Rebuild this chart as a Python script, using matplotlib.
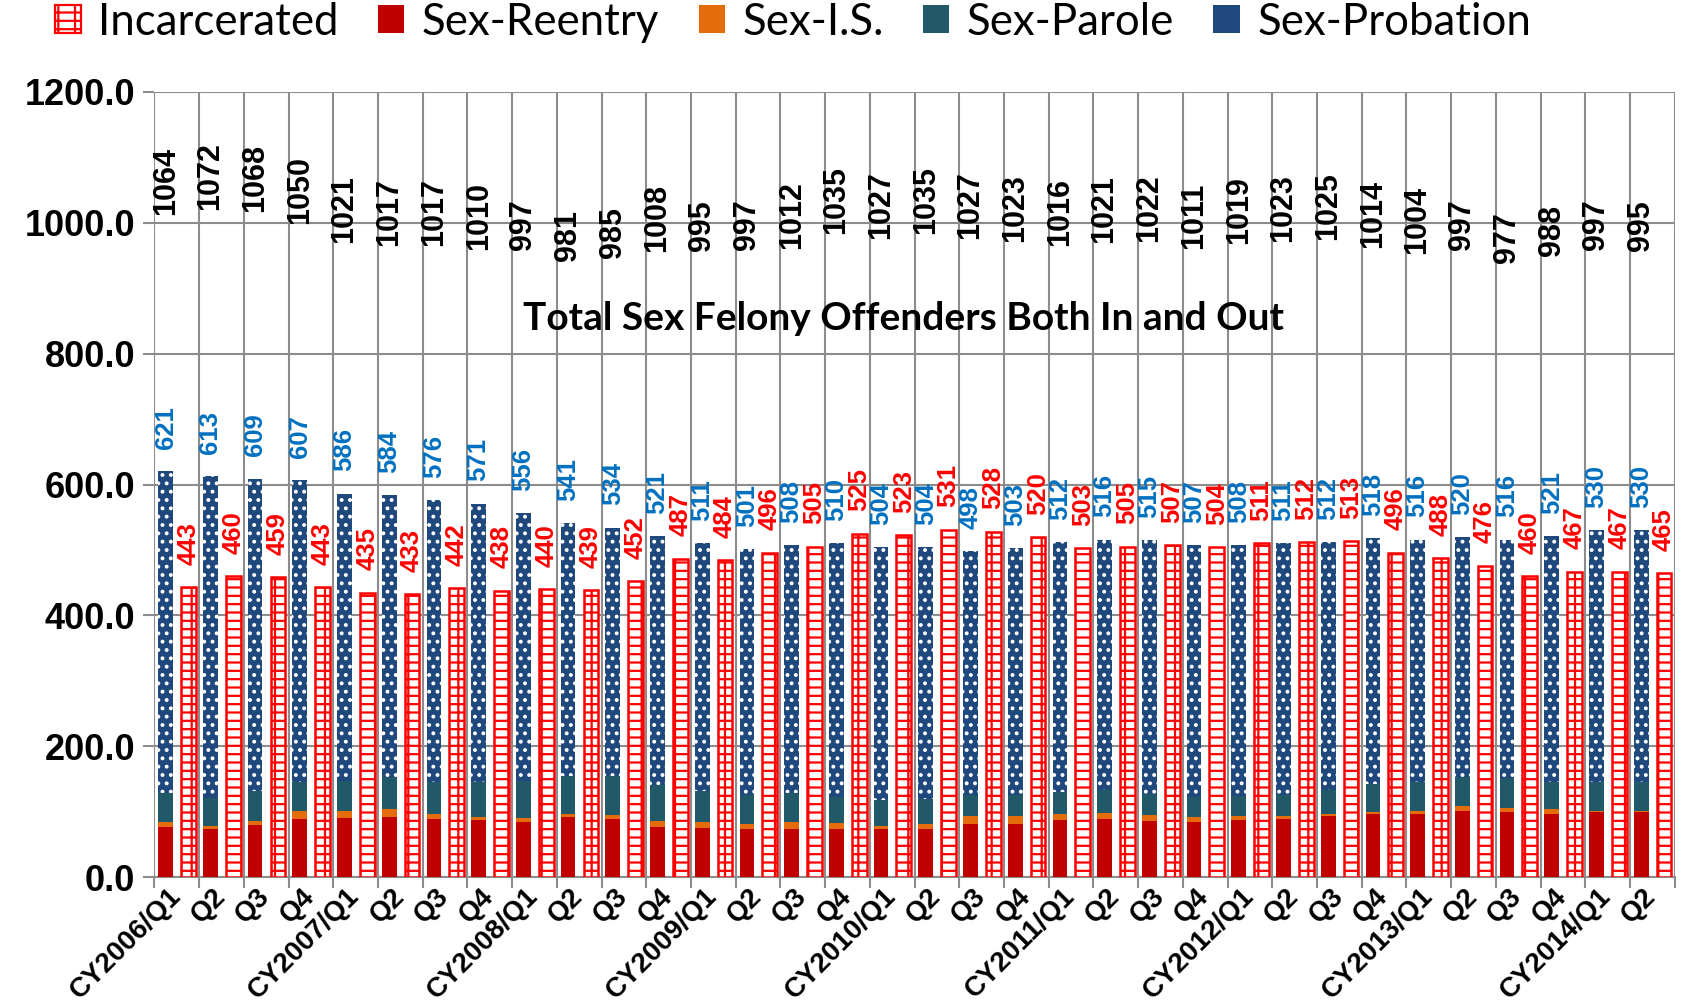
import matplotlib
matplotlib.use("Agg")
import matplotlib.pyplot as plt
import numpy as np
from matplotlib.patches import Patch
from matplotlib.ticker import FixedLocator, FormatStrFormatter

quarters = [
    "CY2006/Q1", "Q2", "Q3", "Q4",
    "CY2007/Q1", "Q2", "Q3", "Q4",
    "CY2008/Q1", "Q2", "Q3", "Q4",
    "CY2009/Q1", "Q2", "Q3", "Q4",
    "CY2010/Q1", "Q2", "Q3", "Q4",
    "CY2011/Q1", "Q2", "Q3", "Q4",
    "CY2012/Q1", "Q2", "Q3", "Q4",
    "CY2013/Q1", "Q2", "Q3", "Q4",
    "CY2014/Q1", "Q2",
]
totals = [1064, 1072, 1068, 1050, 1021, 1017, 1017, 1010, 997, 981, 985, 1008,
          995, 997, 1012, 1035, 1027, 1035, 1027, 1023, 1016, 1021, 1022, 1011,
          1019, 1023, 1025, 1014, 1004, 997, 977, 988, 997, 995]
community = [621, 613, 609, 607, 586, 584, 576, 571, 556, 541, 534, 521,
             511, 501, 508, 510, 504, 504, 498, 503, 512, 516, 515, 507,
             508, 511, 512, 518, 516, 520, 516, 521, 530, 530]
incarcerated = [443, 460, 459, 443, 435, 433, 442, 438, 440, 439, 452, 487,
                484, 496, 505, 525, 523, 531, 528, 520, 503, 505, 507, 504,
                511, 512, 513, 496, 488, 476, 460, 467, 467, 465]
reentry = [77, 73, 80, 89, 90, 92, 89, 87, 85, 92, 89, 77,
           76, 73, 74, 74, 73, 73, 82, 82, 88, 89, 86, 85,
           87, 89, 93, 96, 97, 102, 99, 97, 99, 99]
intensive = [7, 6, 6, 13, 12, 12, 8, 5, 5, 4, 6, 9,
             8, 8, 11, 9, 6, 9, 11, 12, 9, 9, 9, 7,
             6, 4, 3, 4, 4, 7, 7, 7, 3, 3]
parole = [44, 42, 46, 44, 45, 49, 49, 53, 57, 58, 60, 55,
          48, 44, 44, 40, 39, 38, 32, 32, 34, 36, 32, 30,
          31, 33, 37, 42, 44, 44, 45, 42, 44, 44]
probation = [493, 492, 477, 461, 439, 431, 430, 426, 409, 387, 379, 380,
             379, 376, 379, 387, 386, 384, 373, 377, 381, 382, 388, 385,
             384, 385, 379, 376, 371, 367, 365, 375, 384, 384]

C_REENTRY = "#C00000"
C_IS = "#E46C0A"
C_PAROLE = "#215968"
C_PROB = "#1F497D"
C_INC = "#FF0000"
GRID = "#8C8C8C"

plt.rcParams["hatch.linewidth"] = 1.6
LABEL_FONT = "Liberation Sans"
TEXT_FONT = "Lato"

fig = plt.figure(figsize=(16.94, 10.08), dpi=100)
ax = fig.add_axes([0.0912, 0.1297, 0.8974, 0.7792])

x = np.arange(len(quarters))
w = 0.33
xc = x - 0.25
xi = x + 0.26

r = np.array(reentry)
s = np.array(intensive)
p = np.array(parole)
b = np.array(probation)

ax.bar(xc, r, w, color=C_REENTRY, zorder=3)
ax.bar(xc, s, w, bottom=r, color=C_IS, zorder=3)
ax.bar(xc, p, w, bottom=r + s, color=C_PAROLE, zorder=3)
ax.bar(xc, b, w, bottom=r + s + p, color=C_PROB, zorder=3)
ax.bar(xc, b, w, bottom=r + s + p, fill=False, edgecolor="white",
       linewidth=0, hatch="..", zorder=4)

# brick-like hatch: dense horizontal lines, sparse vertical ones
ax.bar(xi, incarcerated, w, facecolor="white", edgecolor=C_INC,
       linewidth=1.8, hatch="--|", zorder=3)

for xx, v in zip(xc, community):
    ax.text(xx, v + 34, f"{v}", rotation=90, ha="center", va="bottom",
            color="#0070C0", fontsize=18.5, fontweight="bold", family=LABEL_FONT)
for xx, v in zip(xi, incarcerated):
    ax.text(xx, v + 34, f"{v}", rotation=90, ha="center", va="bottom",
            color=C_INC, fontsize=18.5, fontweight="bold", family=LABEL_FONT)
for xx, v in zip(xc, totals):
    ax.text(xx, v, f"{v}", rotation=90, ha="center", va="center",
            color="black", fontsize=22, fontweight="bold", family=LABEL_FONT)

ax.text(0.4924, 853, "Total Sex Felony Offenders Both In and Out",
        transform=ax.get_yaxis_transform(),
        ha="center", va="center", fontsize=28, fontweight="bold",
        family=TEXT_FONT)

ax.set_xlim(-0.5, len(quarters) - 0.5)
ax.set_ylim(0, 1200)
ax.set_yticks(np.arange(0, 1201, 200))
ax.yaxis.set_major_formatter(FormatStrFormatter("%.1f"))
ax.set_xticks(x)
ax.set_xticklabels(quarters, rotation=45, ha="right", va="center",
                   rotation_mode="anchor")
ax.xaxis.set_minor_locator(FixedLocator(np.arange(-0.5, len(quarters), 1.0)))
ax.tick_params(axis="x", which="major", length=0, pad=11)
ax.tick_params(axis="x", which="minor", length=8, width=1.5, color=GRID)
ax.tick_params(axis="y", length=8, width=1.5, color=GRID, pad=6)
for lab in ax.get_xticklabels() + ax.get_yticklabels():
    lab.set_family(LABEL_FONT)
    lab.set_fontweight("bold")
for lab in ax.get_xticklabels():
    lab.set_fontsize(20)
for lab in ax.get_yticklabels():
    lab.set_fontsize(26)

ax.grid(axis="y", which="major", color=GRID, linewidth=1.5)
ax.grid(axis="x", which="minor", color=GRID, linewidth=1.5)
ax.set_axisbelow(True)
for side in ["top", "right", "left"]:
    ax.spines[side].set_visible(False)
ax.spines["bottom"].set_color(GRID)
ax.spines["bottom"].set_linewidth(1.5)

handles = [
    Patch(facecolor="white", edgecolor=C_INC, hatch="--|", linewidth=1.6, label="Incarcerated"),
    Patch(facecolor=C_REENTRY, label="Sex-Reentry"),
    Patch(facecolor=C_IS, label="Sex-I.S."),
    Patch(facecolor=C_PAROLE, label="Sex-Parole"),
    Patch(facecolor=C_PROB, label="Sex-Probation"),
]
fig.legend(handles=handles, loc="center", bbox_to_anchor=(0.468, 0.978),
           ncol=5, frameon=False, prop={"family": TEXT_FONT, "size": 31.5},
           handlelength=0.6, handleheight=0.6, handletextpad=0.4,
           columnspacing=0.9)

fig.savefig("out.png", dpi=100)
plt.close(fig)
